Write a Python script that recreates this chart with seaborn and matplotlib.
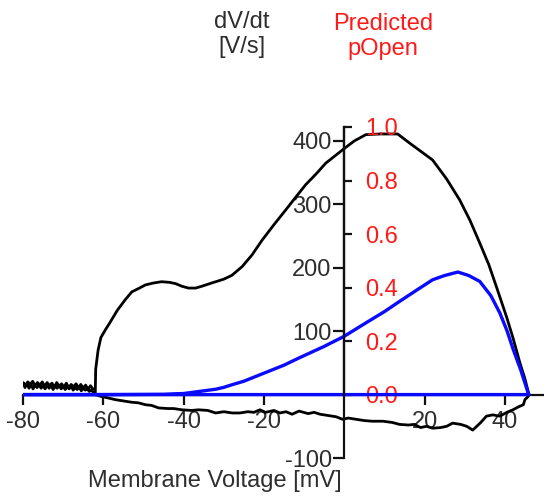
import numpy as np
import pandas as pd
import matplotlib
matplotlib.use("Agg")
import matplotlib.pyplot as plt
import seaborn as sns

# Phase-plane trace: membrane voltage (mV) vs dV/dt (V/s)
# resting baseline (noisy, two overlapping sweeps), upstroke/repolarisation arc, and return path
baseline_v = [-62.6, -63.2, -63.8, -64.4, -65.0, -65.6, -66.2, -66.8, -67.4, -68.0,
              -68.6, -69.2, -69.8, -70.4, -71.0, -71.6, -72.2, -72.8, -73.4, -74.0,
              -74.6, -75.2, -75.8, -76.4, -77.0, -77.6, -78.2, -78.8, -79.4, -80,
              -79.5, -79.0, -78.5, -78.0, -77.5, -77.0, -76.5, -76.0, -75.5, -75.0,
              -74.5, -74.0, -73.5, -73.0, -72.5, -72.0, -71.5, -71.0, -70.5, -70.0,
              -69.5, -69.0, -68.5, -68.0, -67.5, -67.0, -66.5, -66.0, -65.5, -65.0,
              -64.5, -64.0, -63.5, -63.0, -62.5]
baseline_dvdt = [9, 14, 8, 15, 10, 16, 11, 17, 12, 16,
                 11, 18, 12, 17, 13, 19, 12, 18, 14, 19,
                 13, 20, 15, 19, 14, 21, 16, 20, 15, 19,
                 11, 17, 10, 16, 9, 15, 11, 16, 10, 14,
                 9, 15, 10, 14, 8, 13, 10, 14, 9, 13,
                 8, 12, 9, 13, 7, 11, 8, 12, 6, 10,
                 7, 9, 5, 7, 4]

upstroke_v = [-62, -61.9, -61.3, -60.6, -59.5, -58.5, -56.5, -54.5, -52.9, -51,
              -49.5, -47.5, -45.5, -43.5, -42, -40.5, -38.8, -37, -35.4, -33,
              -30, -28, -25.4, -23, -20.4, -17.5, -14.6, -12, -9.6, -7,
              -4.6, -2, 0, 2.5, 5.4, 9, 13.3, 16.2, 19, 22,
              25.5, 28.75, 31.3, 33.75, 36, 37.9, 40.4, 42, 43.75, 45,
              45.8, 46]
upstroke_dvdt = [3, 40, 70, 90, 102, 112, 133, 150, 162, 168,
                 173, 176, 178, 177, 175, 171, 168, 168, 171, 176,
                 182, 188, 202, 220, 244, 268, 291, 312, 331, 348,
                 365, 378, 388, 400, 410, 411, 411, 397, 384, 370,
                 340, 307, 275, 239, 205, 170, 123, 90, 50, 25,
                 5, 0]

return_v = [45.8, 45, 44.6, 43.5, 42, 40.5, 38.75, 37, 35.4, 34,
            32, 30.5, 29, 27, 25.5, 24, 22, 20.5, 19, 17.5,
            16, 13.75, 12, 9.6, 7, 5, 3, 1, -0.4, -2,
            -4, -6, -7.5, -9, -11.25, -13, -14.5, -16, -17.5, -19.6,
            -21, -22.5, -24, -26, -27.9, -30, -32, -34, -36.25, -38,
            -40.4, -42.5, -44, -46.25, -48, -49.5, -51.25, -53, -55, -57,
            -59, -60.5, -62]
return_dvdt = [-3, -8, -16, -19, -24, -28, -34, -32, -34, -44,
               -56, -50, -47, -45, -50, -52, -53, -50, -52, -47,
               -48, -47, -44, -42, -42, -41, -39, -37, -39, -35,
               -33, -31, -28, -30, -26, -31, -27, -29, -25, -28,
               -24, -28, -27, -29, -29, -27, -29, -25, -24, -25,
               -24, -22, -22, -21, -17, -16, -13, -12, -10, -8,
               -5, -3, 0]

# Predicted open probability along the same voltage path
popen_v = [-80, -60, -45, -40, -36, -32, -30, -27.9, -25, -20,
           -15, -11.25, -5, 0, 5.4, 10, 13.75, 18, 22, 25,
           28.3, 31, 33.75, 36.5, 38.75, 40.5, 42.1, 44, 45.8, 46,
           -80]
popen = [0, 0, 0.001, 0.004, 0.012, 0.02, 0.027, 0.037, 0.05, 0.08,
         0.11, 0.137, 0.18, 0.218, 0.268, 0.31, 0.348, 0.39, 0.429, 0.445,
         0.458, 0.445, 0.423, 0.37, 0.305, 0.24, 0.168, 0.09, 0.006, 0,
         0]

x_ticks = [-80, -60, -40, -20, 20, 40]
dvdt_ticks = [-100, 100, 200, 300, 400]
popen_ticks = [0.0, 0.2, 0.4, 0.6, 0.8, 1.0]

sns.set_style("ticks")
plt.rcParams["font.family"] = ["Liberation Sans", "DejaVu Sans"]
plt.rcParams["axes.unicode_minus"] = False

TEXT = "#2e2e2e"
RED = "#ff1a1a"
FS = 17

trace = pd.DataFrame({
    "V": baseline_v + upstroke_v + return_v,
    "dVdt": baseline_dvdt + upstroke_dvdt + return_dvdt,
})
prob = pd.DataFrame({"V": popen_v, "p": popen})

fig = plt.figure(figsize=(5.44, 4.98), dpi=100)
ax = fig.add_axes([23 / 544, 1 - 458 / 498, 520 / 544, (458 - 127) / 498])
ax.patch.set_alpha(0)

sns.lineplot(data=trace, x="V", y="dVdt", sort=False, estimator=None,
             color="black", lw=2.0, ax=ax)

ymax = 422
ax.set_xlim(-80, 49.5)
ax.set_ylim(-100, ymax)
ax.set_xlabel("")
ax.set_ylabel("")

for s in ("top", "right"):
    ax.spines[s].set_visible(False)
ax.spines["left"].set_position(("data", 0))
ax.spines["bottom"].set_position(("data", 0))
for s in ("left", "bottom"):
    ax.spines[s].set_linewidth(1.6)
    ax.spines[s].set_color("#111111")

ax.set_xticks(x_ticks)
ax.set_xticklabels([str(t) for t in x_ticks])
ax.set_yticks(dvdt_ticks)
ax.set_yticklabels([str(t) for t in dvdt_ticks])
ax.tick_params(axis="x", direction="out", length=7, width=1.6, pad=5,
               labelsize=FS, labelcolor=TEXT, color="#111111")
ax.tick_params(axis="y", direction="out", length=8, width=1.6, pad=1,
               labelsize=FS, labelcolor=TEXT, color="#111111")

ax2 = ax.twinx()
sns.lineplot(data=prob, x="V", y="p", sort=False, estimator=None,
             color="#0a0aff", lw=2.4, ax=ax2)
ax2.set_ylim(-100 / ymax, 1.0)
ax2.set_ylabel("")
for s in ("top", "left", "bottom"):
    ax2.spines[s].set_visible(False)
ax2.spines["right"].set_position(("data", 0))
ax2.spines["right"].set_bounds(0, 1.0)
ax2.spines["right"].set_linewidth(1.6)
ax2.spines["right"].set_color("#111111")
ax2.set_yticks(popen_ticks)
ax2.set_yticklabels([f"{t:.1f}" for t in popen_ticks])
ax2.tick_params(axis="y", direction="out", length=6, width=1.6, pad=9,
                labelsize=FS, labelcolor=RED, color="#111111")

fig.text(242 / 544, 1 - 11 / 498, "dV/dt\n[V/s]", ha="center", va="top",
         fontsize=FS, color=TEXT, linespacing=1.15)
fig.text(383 / 544, 1 - 13 / 498, "Predicted\npOpen", ha="center", va="top",
         fontsize=FS, color=RED, linespacing=1.15)
fig.text(215 / 544, 1 - 487 / 498, "Membrane Voltage [mV]", ha="center",
         va="baseline", fontsize=FS, color=TEXT)

fig.savefig("out.png", dpi=100)
